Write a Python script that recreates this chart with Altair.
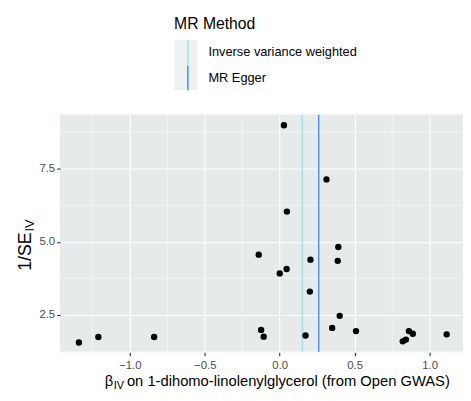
import altair as alt
import pandas as pd

# Data
beta_iv = [-1.34, -1.21, -0.838, -0.14, -0.124, -0.107, 0.0, 0.028, 0.046, 0.048,
           0.172, 0.201, 0.205, 0.312, 0.35, 0.387, 0.391, 0.40, 0.509, 0.821,
           0.842, 0.862, 0.888, 1.114]
inv_se_iv = [1.56, 1.75, 1.75, 4.56, 1.99, 1.76, 3.92, 8.98, 4.07, 6.03,
             1.80, 3.30, 4.39, 7.13, 2.06, 4.35, 4.82, 2.47, 1.95, 1.60,
             1.66, 1.95, 1.86, 1.84]
methods = ["Inverse variance weighted", "MR Egger"]
method_estimates = [0.151, 0.26]
method_colors = ["#A3E4E4", "#4F93EA"]
x_major = [-1.0, -0.5, 0.0, 0.5, 1.0]
y_major = [2.5, 5.0, 7.5]
x_minor = [-1.25, -0.75, -0.25, 0.25, 0.75]
y_minor = [1.25, 3.75, 6.25, 8.75]

pts = pd.DataFrame({"beta": beta_iv, "invse": inv_se_iv})
mr = pd.DataFrame({"method": methods, "est": method_estimates})
xm = pd.DataFrame({"v": x_minor})
ym = pd.DataFrame({"v": y_minor})
one = pd.DataFrame({"a": [0]})

FONT = "Liberation Sans"
xscale = alt.Scale(domain=[-1.4656, 1.223], nice=False, zero=False)
yscale = alt.Scale(domain=[1.225, 9.346], nice=False, zero=False)

axis_common = dict(
    domain=False, tickColor="#333333", tickSize=3.5, tickWidth=1.1,
    labelColor="#4D4D4D", labelFontSize=11.5, labelFont=FONT,
    gridColor="white", gridWidth=1.1, format=".1f", title=None,
)

xminor_rules = alt.Chart(xm).mark_rule(color="white", strokeWidth=0.55, clip=True).encode(
    x=alt.X("v:Q", scale=xscale,
            axis=alt.Axis(values=x_major, labelFlush=False, labelPadding=3.5, **axis_common))
)
yminor_rules = alt.Chart(ym).mark_rule(color="white", strokeWidth=0.55, clip=True).encode(
    y=alt.Y("v:Q", scale=yscale, axis=alt.Axis(values=y_major, labelPadding=2, **axis_common))
)

key_bg = alt.Chart(one).mark_rect(color="#EEF1F1").encode(
    x=alt.value(116), x2=alt.value(140), y=alt.value(-76), y2=alt.value(-25)
)

lines = alt.Chart(mr).mark_rule(strokeWidth=1.6, clip=True).encode(
    x=alt.X("est:Q", scale=xscale),
    color=alt.Color(
        "method:N",
        scale=alt.Scale(domain=methods, range=method_colors),
        legend=alt.Legend(
            title="MR Method", orient="none", legendX=116, legendY=-100,
            titleFont=FONT, titleFontSize=16, titleFontWeight="normal", titleColor="black",
            titlePadding=8, labelFont=FONT, labelFontSize=13, labelColor="black",
            symbolType="M0,-1L0,1", symbolSize=650, symbolStrokeWidth=1.6,
            clipHeight=25.5, rowPadding=0, labelOffset=7, padding=0,
        ),
    ),
)

points = alt.Chart(pts).mark_circle(size=42, color="black", opacity=1).encode(
    x=alt.X("beta:Q", scale=xscale),
    y=alt.Y("invse:Q", scale=yscale),
)

def txt(s, x, y, size, angle=0, align="left"):
    return alt.Chart(one).mark_text(
        text=s, font=FONT, fontSize=size, color="black", align=align,
        baseline="alphabetic", angle=angle,
    ).encode(x=alt.value(x), y=alt.value(y))

x_title = (
    txt("\u03b2", 54, 276, 15, align="right")
    + txt("IV", 54.5, 279, 11)
    + txt("on 1-dihomo-linolenylglycerol (from Open GWAS)", 68, 276, 15)
)
y_title = (
    txt("1/SE", -30, 159, 18, angle=270)
    + txt("IV", -27, 159 - 40, 13, angle=270)
)

chart = alt.layer(
    xminor_rules, yminor_rules, key_bg, lines, points, x_title, y_title
).properties(
    width=410, height=242,
    padding={"left": 53, "top": 105, "right": 0, "bottom": 38},
    autosize=alt.AutoSizeParams(type="none"),
).configure_view(fill="#E6EAEA", stroke=None)

chart.save("out.html", embed_options={"renderer": "svg", "actions": False})
